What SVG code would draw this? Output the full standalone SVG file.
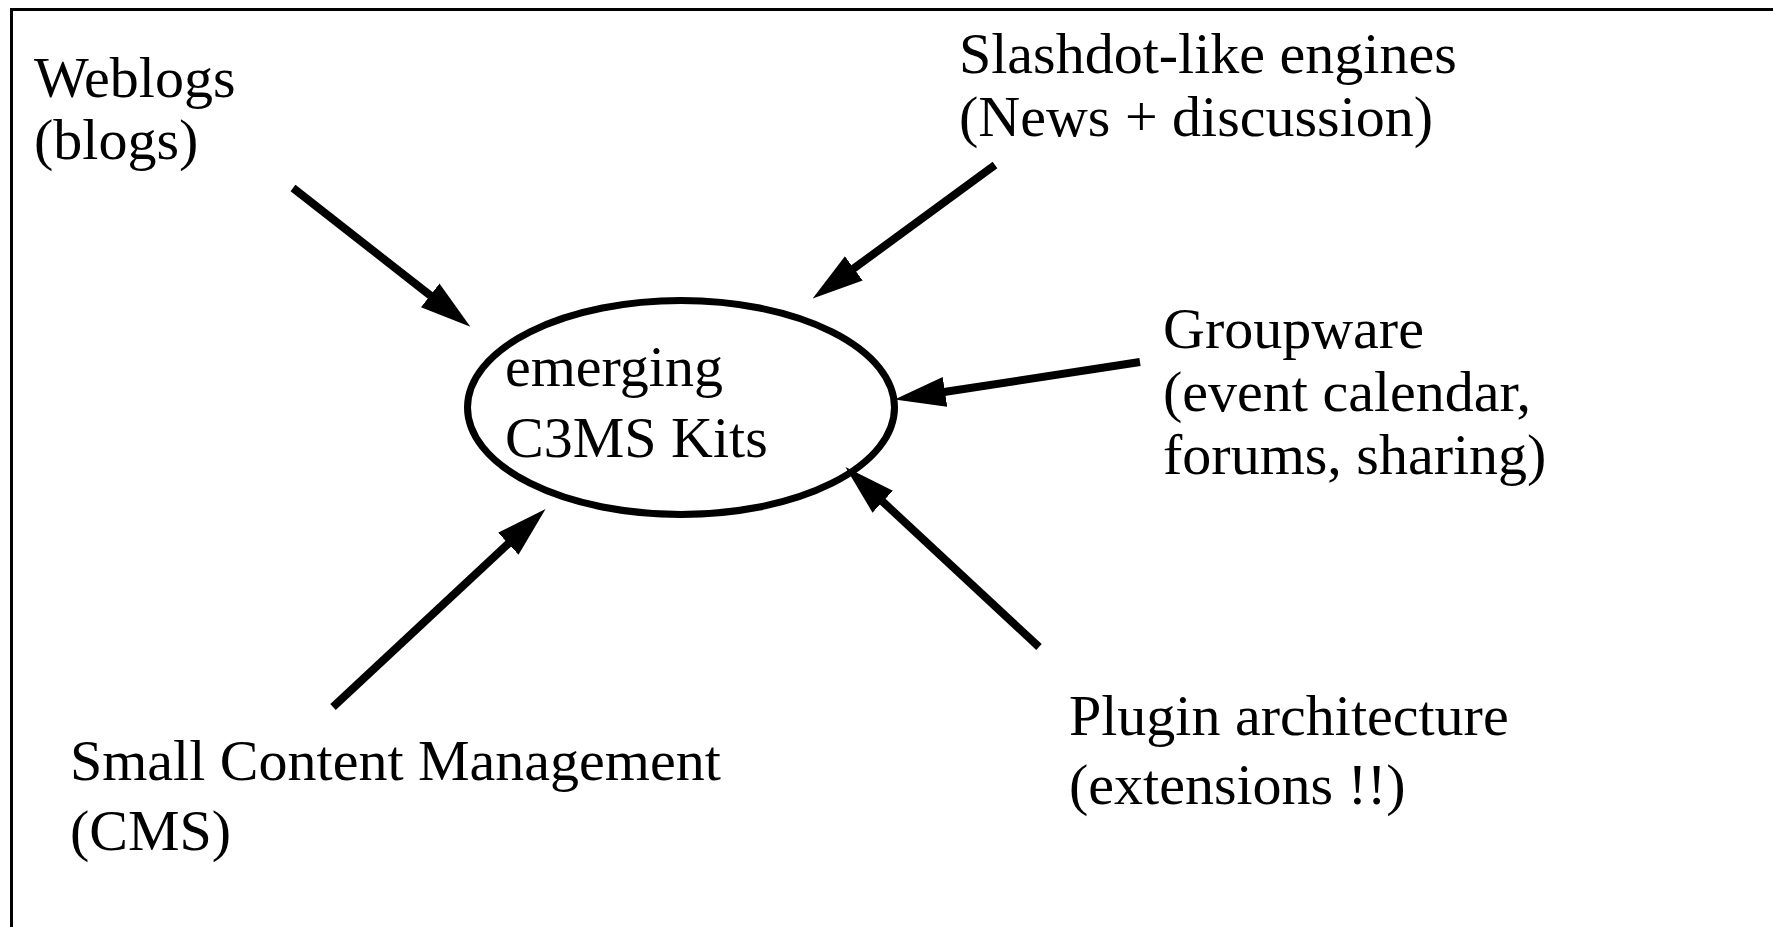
<svg xmlns="http://www.w3.org/2000/svg" width="1773" height="927" viewBox="0 0 1773 927">
<style>
.t{font-family:"Liberation Serif","Times New Roman",serif;font-size:58px;fill:#000}
.c{stroke:#000;stroke-width:8;fill:none}
</style>
<defs>
<marker id="ah" markerUnits="userSpaceOnUse" markerWidth="52" markerHeight="32" refX="1" refY="15" orient="auto" viewBox="0 0 52 30">
<path d="M0,0 L51,15 L0,30 z" fill="#000"/>
</marker>
</defs>
<rect x="0" y="0" width="1773" height="927" fill="#fff"/>
<rect x="11.5" y="9.5" width="1800" height="1000" fill="none" stroke="#000" stroke-width="3"/>
<g id="connectors">
<line class="c" x1="293" y1="188" x2="431" y2="296" marker-end="url(#ah)"/>
<line class="c" x1="995" y1="165" x2="853" y2="269" marker-end="url(#ah)"/>
<line class="c" x1="1140" y1="362" x2="944" y2="392" marker-end="url(#ah)"/>
<line class="c" x1="1039" y1="647" x2="882" y2="501" marker-end="url(#ah)"/>
<line class="c" x1="333" y1="707" x2="509" y2="543" marker-end="url(#ah)"/>
</g>
<g id="center">
<ellipse cx="681" cy="407.5" rx="213.5" ry="107" fill="none" stroke="#000" stroke-width="7"/>
<text class="t" x="505" y="386">emerging</text>
<text class="t" x="505" y="457">C3MS Kits</text>
</g>
<g id="weblogs">
<text class="t" x="34" y="97">Weblogs</text>
<text class="t" x="34" y="159">(blogs)</text>
</g>
<g id="slashdot">
<text class="t" x="959" y="73">Slashdot-like engines</text>
<text class="t" x="959" y="136">(News + discussion)</text>
</g>
<g id="groupware">
<text class="t" x="1163" y="348">Groupware</text>
<text class="t" x="1163" y="411">(event calendar,</text>
<text class="t" x="1163" y="474">forums, sharing)</text>
</g>
<g id="plugin">
<text class="t" x="1069" y="735">Plugin architecture</text>
<text class="t" x="1069" y="804">(extensions !!)</text>
</g>
<g id="cms">
<text class="t" x="70" y="780">Small Content Management</text>
<text class="t" x="70" y="850">(CMS)</text>
</g>
</svg>
